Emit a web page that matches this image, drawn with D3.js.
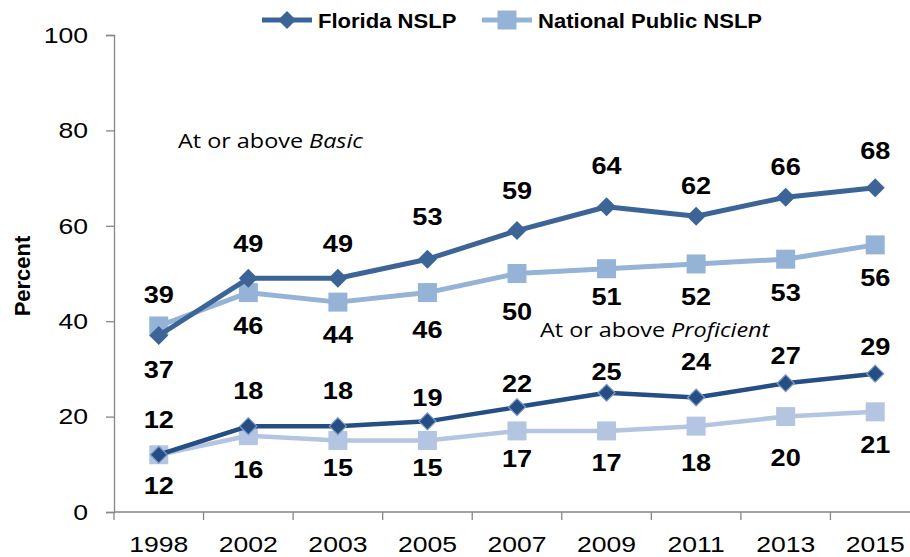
<!DOCTYPE html>
<html><head><meta charset="utf-8">
<script src="https://cdn.jsdelivr.net/npm/d3@7"></script>
<style>body{margin:0;background:#fff}svg{display:block}</style>
</head><body>
<svg id="c" width="910" height="557"></svg>
<script>
const years = ["1998","2002","2003","2005","2007","2009","2011","2013","2015"];
const flBasic = [37,49,49,53,59,64,62,66,68];
const natBasic = [39,46,44,46,50,51,52,53,56];
const flProf = [12,18,18,19,22,25,24,27,29];
const natProf = [12,16,15,15,17,17,18,20,21];
const yTicks = [0,20,40,60,80,100];

// label offsets (px, label centre relative to its point), as placed in the reference
const offFlBasic = [34, -35, -35, -42, -40, -41, -31, -30, -37];
const offNatBasic = [-31, 33, 33, 37, 38, 28, 33, 34, 33];
const offFlProf = [-35, -35, -35, -24, -23, -21, -36, -28, -27];
const offNatProf = [31, 34, 27, 27, 28, 32, 37, 41, 33];

const svg = d3.select("#c");
const x = d3.scaleBand().domain(years).range([114, 920]);
const y = d3.scaleLinear().domain([0,100]).range([512, 35]);
const cx = d => x(d) + x.bandwidth()/2;
const axisColor = "#868686";
const SX = 1.18;

// y axis
const ya = svg.append("g").attr("transform","translate(114,0)")
  .call(d3.axisLeft(y).tickValues(yTicks).tickSize(8).tickPadding(18).tickFormat(d3.format("d")));
ya.select(".domain").attr("stroke",axisColor).attr("stroke-width",1.3);
ya.selectAll(".tick line").attr("stroke",axisColor).attr("stroke-width",1.3);
ya.selectAll(".tick text").attr("font-family","Liberation Sans, Arial, sans-serif").attr("font-size",22.5).attr("fill","#000")
  .attr("transform",`translate(-26,0) scale(${SX},1) translate(26,0)`);

// x axis
const xa = svg.append("g");
xa.append("line").attr("x1",114).attr("x2",920).attr("y1",y(0)).attr("y2",y(0)).attr("stroke",axisColor).attr("stroke-width",1.3);
const bounds = years.map(d => x(d)).concat([x(years[years.length-1]) + x.bandwidth()]);
xa.selectAll("line.t").data(bounds).join("line").attr("class","t")
  .attr("x1",d=>d).attr("x2",d=>d).attr("y1",y(0)).attr("y2",y(0)+8)
  .attr("stroke",axisColor).attr("stroke-width",1.3);
xa.selectAll("text").data(years).join("text")
  .attr("transform",d=>`translate(${cx(d)},552) scale(${SX},1)`).attr("text-anchor","middle")
  .attr("font-family","Liberation Sans, Arial, sans-serif").attr("font-size",22.5).attr("fill","#000")
  .text(d=>d);

// y title
svg.append("text").attr("transform","translate(30,276) rotate(-90)").attr("text-anchor","middle")
  .attr("font-family","Liberation Sans, Arial, sans-serif").attr("font-weight","bold").attr("font-size",22)
  .text("Percent");

const diamond = r => `M0,${-r}L${r},0L0,${r}L${-r},0Z`;
const square = r => `M${-r},${-r}H${r}V${r}H${-r}Z`;

function series(vals, color, lw, shape, r, markStroke){
  const line = d3.line().x((d,i)=>cx(years[i])).y(d=>y(d));
  svg.append("path").datum(vals).attr("d",line).attr("fill","none")
    .attr("stroke",color).attr("stroke-width",lw).attr("stroke-linejoin","round");
  svg.append("g").selectAll("path").data(vals).join("path")
    .attr("transform",(d,i)=>`translate(${cx(years[i])},${y(d)})`)
    .attr("d",shape(r)).attr("fill",color)
    .attr("stroke",markStroke||"none").attr("stroke-width",markStroke?1.2:0);
}
function labels(vals, offs){
  svg.append("g").selectAll("text").data(vals).join("text")
    .attr("transform",(d,i)=>`translate(${cx(years[i])},${y(d)+offs[i]+8.3}) scale(${SX},1)`)
    .attr("text-anchor","middle").attr("font-family","Liberation Sans, Arial, sans-serif")
    .attr("font-weight","bold").attr("font-size",23).attr("fill","#000").text(d=>d);
}

series(natBasic, "#95B3D7", 5, square, 9.5);
series(flBasic, "#3C6496", 5, diamond, 9.5);
series(natProf, "#B3C5E0", 4.5, square, 9.5);
series(flProf, "#254E85", 4.5, diamond, 8.5, "#7F9CC6");

labels(flBasic, offFlBasic);
labels(natBasic, offNatBasic);
labels(flProf, offFlProf);
labels(natProf, offNatProf);

// annotations
const ann = svg.append("g").attr("font-family","Open Sans, sans-serif").attr("font-size",19.5).attr("fill","#000");
const a1 = ann.append("text").attr("transform","translate(178,148) scale(1.2,1)");
a1.append("tspan").text("At or above ");
a1.append("tspan").attr("font-style","italic").text("Basic");
const a2 = ann.append("text").attr("transform","translate(540,337) scale(1.2,1)");
a2.append("tspan").text("At or above ");
a2.append("tspan").attr("font-style","italic").text("Proficient");

// legend
const leg = [
  {name:"Florida NSLP", color:"#3C6496", shape:diamond, x0:262},
  {name:"National Public NSLP", color:"#95B3D7", shape:square, x0:482}
];
const lg = svg.append("g");
leg.forEach(l=>{
  lg.append("line").attr("x1",l.x0).attr("x2",l.x0+50).attr("y1",20).attr("y2",20)
    .attr("stroke",l.color).attr("stroke-width",5);
  lg.append("path").attr("transform",`translate(${l.x0+25},20)`).attr("d",l.shape(l.shape===diamond?9:9.5)).attr("fill",l.color);
  lg.append("text").attr("transform",`translate(${l.x0+56},28) scale(1.05,1)`).attr("font-family","Liberation Sans, Arial, sans-serif")
    .attr("font-weight","bold").attr("font-size",21).attr("fill","#000").text(l.name);
});
</script>
</body></html>
